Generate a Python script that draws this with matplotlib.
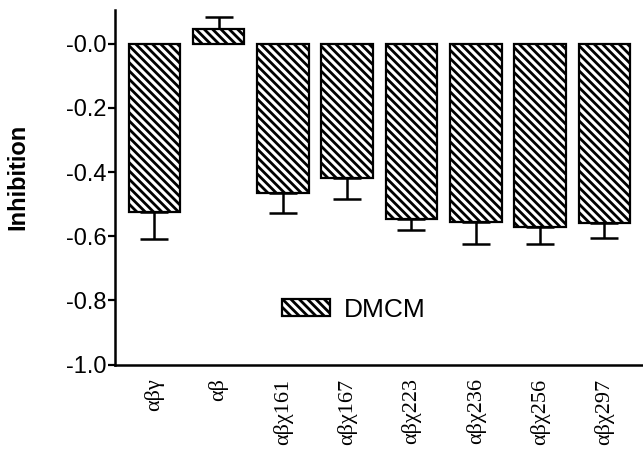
import matplotlib
matplotlib.use("Agg")
import matplotlib.pyplot as plt
import numpy as np

categories = ["αβγ", "αβ", "αβχ161", "αβχ167", "αβχ223", "αβχ236", "αβχ256", "αβχ297"]
values = [-0.526, 0.047, -0.464, -0.419, -0.546, -0.555, -0.572, -0.558]
errors = [0.082, 0.037, 0.065, 0.064, 0.035, 0.068, 0.051, 0.049]
yticks = [0.0, -0.2, -0.4, -0.6, -0.8, -1.0]
ytick_labels = ["-0.0", "-0.2", "-0.4", "-0.6", "-0.8", "-1.0"]
series_name = "DMCM"

plt.rcParams['hatch.linewidth'] = 2.0
fig = plt.figure(figsize=(6.43, 4.49), dpi=100)
ax = fig.add_axes([115/643, 1-364.5/449, 1-115/643, (364.5-10)/449])

x = np.arange(len(categories))
lower = [e if v < 0 else 0 for v, e in zip(values, errors)]
upper = [e if v >= 0 else 0 for v, e in zip(values, errors)]
ax.errorbar(x, values, yerr=[lower, upper], fmt='none', ecolor='black',
            elinewidth=1.8, capsize=10, capthick=1.8, zorder=1)
ax.bar(x, values, width=0.8, color='white', edgecolor='black', linewidth=1.6,
       hatch=chr(92) * 4, label=series_name, zorder=2)

ax.set_xlim(-0.61, 7.6)
ax.set_ylim(-1.0, 0.105)
ax.set_yticks(yticks)
ax.set_yticklabels(ytick_labels, fontsize=17, family='Liberation Sans')
ax.set_xticks(x)
ax.set_xticklabels(categories, rotation=90, fontsize=16, family='Liberation Serif')
ax.tick_params(axis='x', length=0, pad=10)
ax.tick_params(axis='y', length=5, width=1.6, direction='out', pad=1)
for s in ['top', 'right']:
    ax.spines[s].set_visible(False)
for s in ['left', 'bottom']:
    ax.spines[s].set_linewidth(1.8)
ax.set_ylabel("Inhibition", fontsize=17, fontweight='bold', family='Liberation Sans')
ax.yaxis.set_label_coords((29-115)/528, 1-(177-10)/354.5)

leg = ax.legend(loc='center left', bbox_to_anchor=((282-115)/528, 1-(310-10)/354.5),
                frameon=False, prop={'family': 'Liberation Sans', 'size': 19},
                borderpad=0, borderaxespad=0,
                handlelength=1.8, handleheight=0.6, handletextpad=0.55)
fig.savefig("out.png", dpi=100)
